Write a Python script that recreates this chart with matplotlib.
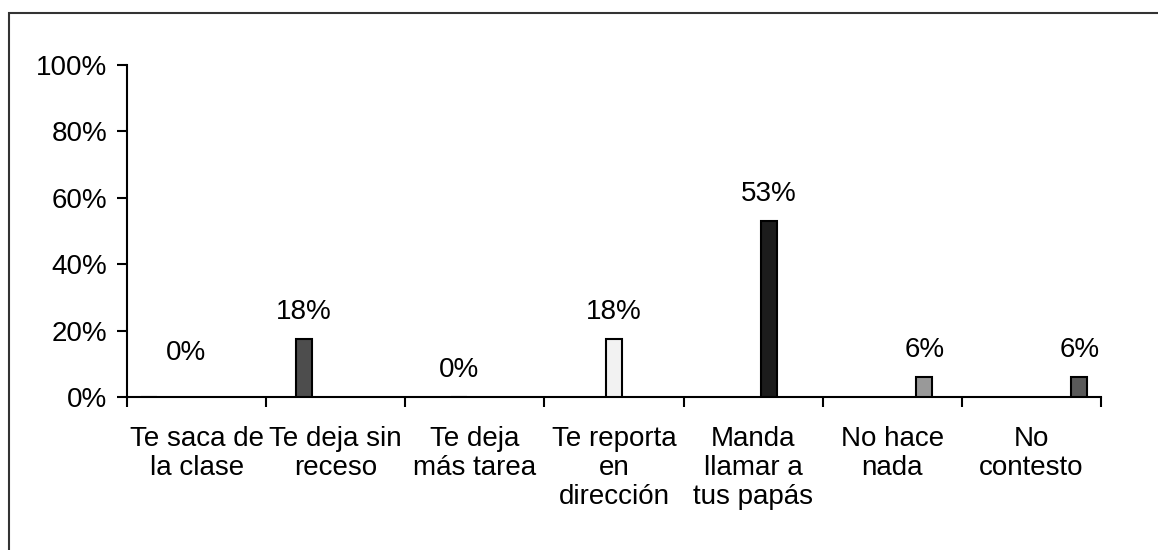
import matplotlib
matplotlib.use("Agg")
import matplotlib.pyplot as plt
from matplotlib.patches import Rectangle
import numpy as np

categories = ["Te saca de\nla clase", "Te deja sin\nreceso", "Te deja\nmás tarea",
              "Te reporta\nen\ndirección", "Manda\nllamar a\ntus papás",
              "No hace\nnada", "No\ncontesto"]
values = [0.0, 0.176, 0.0, 0.176, 0.529, 0.059, 0.059]
value_labels = ["0%", "18%", "0%", "18%", "53%", "6%", "6%"]
bar_colors = ["#808080", "#4d4d4d", "#bfbfbf", "#f2f2f2", "#1c1c1c", "#999999", "#595959"]
yticks = [0, 0.2, 0.4, 0.6, 0.8, 1.0]
ytick_labels = ["0%", "20%", "40%", "60%", "80%", "100%"]

W, H = 1158, 550
fig = plt.figure(figsize=(W / 100, H / 100), dpi=100)
plt.rcParams['font.family'] = ['Liberation Sans', 'DejaVu Sans']
FS = 20

# outer border (only top and left visible)
fig.patches.append(Rectangle((8.5 / W, -0.1), 1.2, (H - 13) / H + 0.1,
                             transform=fig.transFigure, fill=False,
                             edgecolor="#333333", linewidth=1.5))

ax = fig.add_axes([127 / W, (H - 397) / H, (1101 - 127) / W, (397 - 65) / H])
n = len(categories)
bw = 16 / 139.0
x = np.arange(n)
offsets = (x - 3) * bw
xpos = x + offsets
ax.bar(xpos, values, width=bw, color=bar_colors, edgecolor="black", linewidth=1.5, zorder=3)

for i, (xp, v, lab) in enumerate(zip(xpos, values, value_labels)):
    dx = 0.0
    dy = 27 / 332
    if i == 0:
        dx = (185 - 148) / 139.0
        dy = 44 / 332
    ax.text(xp + dx, v + dy, lab, ha="center", va="center", fontsize=FS)

ax.set_xlim(-0.5, n - 0.5)
ax.set_ylim(0, 1)
ax.set_yticks(yticks)
ax.set_yticklabels(ytick_labels, fontsize=FS)
ax.set_xticks(np.arange(n + 1) - 0.5)
ax.set_xticklabels([])
ax.set_xticks(x, minor=True)
ax.set_xticklabels(categories, minor=True, fontsize=FS, linespacing=1.15, va="top")
ax.tick_params(axis="x", which="minor", length=0, pad=21)
ax.tick_params(axis="x", which="major", length=7, width=1.5, direction="out")
ax.tick_params(axis="y", length=7, width=1.5, direction="out", pad=7)
for s in ["top", "right"]:
    ax.spines[s].set_visible(False)
for s in ["left", "bottom"]:
    ax.spines[s].set_linewidth(1.5)

fig.savefig("out.png", dpi=100)
